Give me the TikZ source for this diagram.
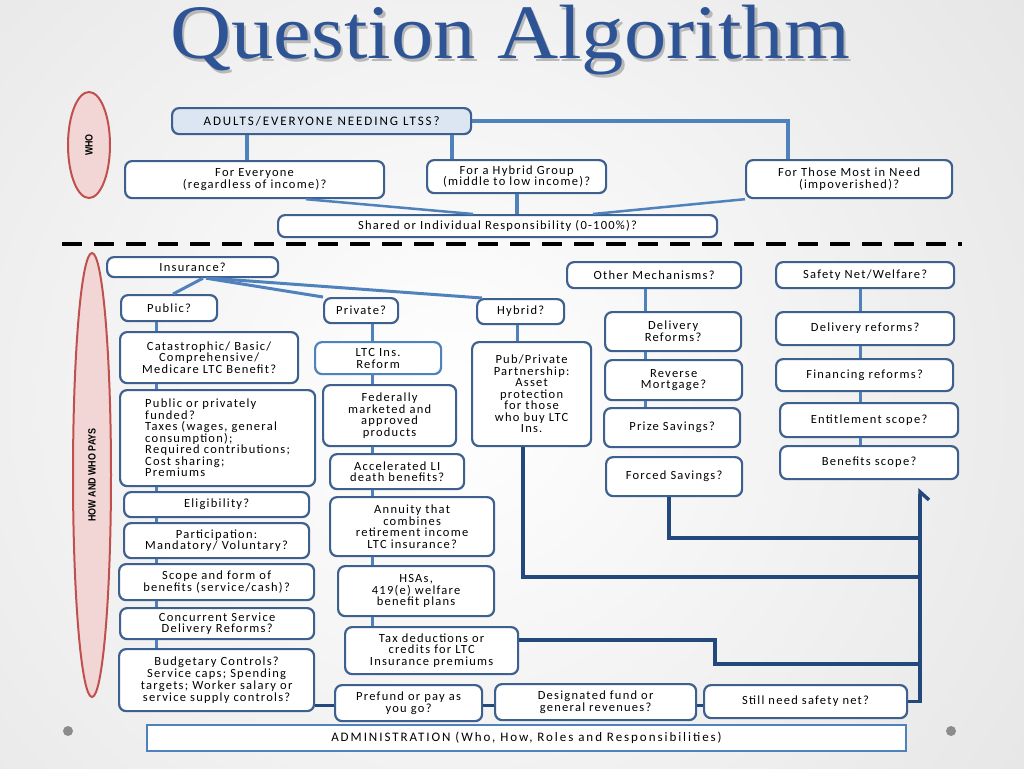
\documentclass[tikz,border=0pt]{standalone}
\usepackage{fontspec}
\usepackage{graphicx}
\setmainfont{Carlito}[LetterSpace=10]
\newfontfamily\widefont{Carlito}[LetterSpace=15]
\newfontfamily\titlefont{Liberation Serif}
\newfontfamily\labfont{Liberation Sans}
\usetikzlibrary{arrows.meta,shapes.geometric}
\definecolor{bord}{RGB}{61,96,142}
\definecolor{lite}{RGB}{79,129,189}
\definecolor{navy}{RGB}{34,72,124}
\definecolor{tblue}{RGB}{46,84,150}
\definecolor{ered}{RGB}{192,80,77}
\definecolor{epink}{RGB}{242,214,213}
\definecolor{afill}{RGB}{220,230,242}
\definecolor{dotgray}{RGB}{140,140,140}
\newcommand{\qatitle}{\scalebox{1.1}[1]{Question Algorithm}}
\tikzset{
  box/.style={draw=bord, line width=2.2pt, rounded corners=7pt, fill=white,
    align=center, inner sep=1pt, anchor=north west, text=black,
    font=\fontsize{12.5}{11.8}\selectfont},
  adminbox/.style={draw=lite, line width=2pt, fill=white, inner sep=1pt,
    anchor=north west, text=black, font=\widefont\fontsize{13}{12}\selectfont},
  oval/.style={ellipse, draw=ered, line width=2pt, fill=epink, inner sep=0pt,
    font=\labfont\bfseries\fontsize{10.5}{11}\selectfont},
  topv/.style={draw=lite, line width=4pt},
  topd/.style={draw=lite, line width=2.5pt},
  coll/.style={draw=lite, line width=3pt},
  navyl/.style={draw=navy, line width=3.5pt},
}
\begin{document}
\begin{tikzpicture}[x=1pt,y=-1pt]
\useasboundingbox (0,0) rectangle (1024,768);
\begin{scope}
\clip (0,0) rectangle (1024,768);
\shade[inner color=white, outer color=black!20] (-1000,-1000) rectangle (1900,1800);
\end{scope}

% title (with its soft shadow)
\node[font=\titlefont\fontsize{77}{80}\selectfont, text=tblue, anchor=base, inner sep=0pt] (title) at (510,59)
  {\makebox[0pt][l]{\hspace{2.5pt}\raisebox{-2.5pt}{\color{black!28}\qatitle}}\qatitle};

% side labels
\node[oval, minimum width=42pt, minimum height=106pt] (who) at (89,145) {\rotatebox{90}{\scalebox{0.85}[1]{WHO}}};
\node[oval, minimum width=38pt, minimum height=444pt] (howpays) at (92,475) {\rotatebox{90}{\scalebox{0.85}[1]{HOW AND WHO PAYS}}};

% dashed separator
\coordinate (dl) at (62,244);
\coordinate (dr) at (962,244);
\draw[black, line width=3.5pt, dash pattern=on 20pt off 12pt] (dl) -- (dr);

% WHO section
\node[box, fill=afill, font=\widefont\fontsize{13}{12}\selectfont, minimum width=299pt, minimum height=26pt] (adults) at (171,107) {ADULTS/EVERYONE NEEDING LTSS?};
\node[box, minimum width=259pt, minimum height=37pt] (everyone) at (124,160) {For Everyone\\(regardless of income)?};
\node[box, minimum width=179pt, minimum height=33pt] (hybridg) at (426,159) {For a Hybrid Group\\(middle to low income)?};
\node[box, minimum width=206pt, minimum height=38pt] (needy) at (745,159) {For Those Most in Need\\(impoverished)?};
\node[box, minimum width=439pt, minimum height=22pt] (shared) at (277,214) {Shared or Individual Responsibility (0-100\%)?};

\coordinate (xa) at (247,0);
\coordinate (xb) at (452,0);
\coordinate (xc) at (788,0);
\coordinate (xd) at (306,0);
\coordinate (xe) at (473,0);
\coordinate (xf) at (517,0);
\coordinate (xg) at (593,0);
\draw[topv] (adults.south -| xa) -- (everyone.north -| xa);
\draw[topv] (adults.south -| xb) -- (hybridg.north -| xb);
\draw[topv] (adults.east) -| (needy.north -| xc);
\draw[topd] (everyone.south -| xd) -- (shared.north -| xe);
\draw[topv] (hybridg.south -| xf) -- (shared.north -| xf);
\draw[topd] (needy.south west) -- (shared.north -| xg);

% HOW AND WHO PAYS section
\node[box, minimum width=171pt, minimum height=20pt] (insurance) at (106,256) {Insurance?};
\node[box, minimum width=96pt, minimum height=26pt] (public) at (120,294) {Public?};
\node[box, minimum width=74pt, minimum height=25pt] (private) at (323,297) {Private?};
\node[box, minimum width=87pt, minimum height=25pt] (hybrid) at (476,298) {Hybrid?};

\coordinate (i1) at (203,0);
\coordinate (i2) at (173,0);
\coordinate (i3) at (206,0);
\coordinate (i4) at (211,0);
\coordinate (i5) at (482,0);
\draw[coll] (insurance.south -| i1) -- (public.north -| i2);
\draw[coll] (insurance.south -| i3) -- (private.north west);
\draw[coll] (insurance.south -| i4) -- (hybrid.north -| i5);

% public column
\node[box, minimum width=178pt, minimum height=51pt] (cat) at (119,331) {Catastrophic/ Basic/\\Comprehensive/\\Medicare LTC Benefit?};
\node[box, align=left, minimum width=195pt, minimum height=96pt, font=\fontsize{12.5}{11.5}\selectfont] (pof) at (119,389) {Public or privately\\funded?\\Taxes (wages, general\\consumption);\\Required contributions;\\Cost sharing;\\Premiums};
\node[box, minimum width=185pt, minimum height=25pt] (elig) at (123,491) {Eligibility?};
\node[box, minimum width=185pt, minimum height=35pt] (part) at (123,522) {Participation:\\Mandatory/ Voluntary?};
\node[box, minimum width=195pt, minimum height=36pt] (scope) at (118,563) {Scope and form of\\benefits (service/cash)?};
\node[box, minimum width=194pt, minimum height=31pt] (conc) at (119,607) {Concurrent Service\\Delivery Reforms?};
\node[box, minimum width=195pt, minimum height=62pt] (budg) at (118,648) {Budgetary Controls?\\Service caps; Spending\\targets; Worker salary or\\service supply controls?};

\coordinate (cp) at (156,0);
\foreach \a/\b in {public/cat, cat/pof, pof/elig, elig/part, part/scope, scope/conc, conc/budg}
  \draw[coll] (\a.south -| cp) -- (\b.north -| cp);

% private column
\node[box, draw=lite, minimum width=126pt, minimum height=32pt] (ltc) at (314,341) {LTC Ins.\\Reform};
\node[box, minimum width=133pt, minimum height=61pt] (fed) at (322,384) {Federally\\marketed and\\approved\\products};
\node[box, minimum width=134pt, minimum height=35pt] (acc) at (329,453) {Accelerated LI\\death benefits?};
\node[box, minimum width=164pt, minimum height=59pt] (ann) at (329,496) {Annuity that\\combines\\retirement income\\LTC insurance?};
\node[box, minimum width=156pt, minimum height=50pt] (hsa) at (337,565) {HSAs,\\419(e) welfare\\benefit plans};
\node[box, minimum width=173pt, minimum height=47pt] (tax) at (344,626) {Tax deductions or\\credits for LTC\\Insurance premiums};

\coordinate (cq) at (372,0);
\foreach \a/\b in {private/ltc, ltc/fed, fed/acc, acc/ann, ann/hsa, hsa/tax}
  \draw[coll] (\a.south -| cq) -- (\b.north -| cq);

% hybrid column
\node[box, minimum width=119pt, minimum height=104pt, font=\fontsize{12.5}{11.5}\selectfont] (pp) at (471,341) {Pub/Private\\Partnership:\\Asset\\protection\\for those\\who buy LTC\\Ins.};
\coordinate (ch) at (517,0);
\draw[coll] (hybrid.south -| ch) -- (pp.north -| ch);

% other mechanisms column
\node[box, minimum width=174pt, minimum height=26pt] (other) at (566,261) {Other Mechanisms?};
\node[box, minimum width=136pt, minimum height=39pt] (dref) at (604,311) {Delivery\\Reforms?};
\node[box, minimum width=137pt, minimum height=40pt] (rev) at (604,359) {Reverse\\Mortgage?};
\node[box, minimum width=136pt, minimum height=39pt] (prize) at (603,407) {Prize Savings?};
\node[box, minimum width=136pt, minimum height=39pt] (forced) at (605,456) {Forced Savings?};
\coordinate (co) at (645,0);
\foreach \a/\b in {other/dref, dref/rev, rev/prize}
  \draw[coll] (\a.south -| co) -- (\b.north -| co);

% safety net column
\node[box, minimum width=178pt, minimum height=26pt] (safety) at (775,261) {Safety Net/Welfare?};
\node[box, minimum width=178pt, minimum height=33pt] (dref2) at (775,311) {Delivery reforms?};
\node[box, minimum width=177pt, minimum height=32pt] (fin) at (775,358) {Financing reforms?};
\node[box, minimum width=178pt, minimum height=34pt] (ent) at (779,402) {Entitlement scope?};
\node[box, minimum width=178pt, minimum height=33pt] (ben) at (779,445) {Benefits scope?};
\coordinate (cs) at (860,0);
\foreach \a/\b in {safety/dref2, dref2/fin, fin/ent, ent/ben}
  \draw[coll] (\a.south -| cs) -- (\b.north -| cs);

% bottom row
\node[box, minimum width=147pt, minimum height=36pt] (prefund) at (334,684) {Prefund or pay as\\you go?};
\node[box, minimum width=201pt, minimum height=36pt] (desig) at (494,683) {Designated fund or\\general revenues?};
\node[box, minimum width=203pt, minimum height=33pt] (still) at (703,684) {Still need safety net?};
\node[adminbox, minimum width=759pt, minimum height=26pt] (admin) at (146,724) {ADMINISTRATION (Who, How, Roles and Responsibilities)};

\coordinate (yb) at (0,705);
\draw[navyl, line width=3pt] (budg.east |- yb) -- (prefund.west |- yb);
\draw[navyl, line width=3pt] (prefund.east |- yb) -- (desig.west |- yb);
\draw[navyl, line width=3pt] (desig.east |- yb) -- (still.west |- yb);

% navy feedback lines
\coordinate (n1) at (918,577);
\coordinate (n2) at (918,538);
\coordinate (n3) at (918,664);
\coordinate (t1) at (715,640);
\coordinate (x523) at (523,0);
\coordinate (x669) at (669,0);
\coordinate (atop) at (920,488);
\draw[navyl] (pp.south -| x523) |- (n1);
\draw[navyl] (forced.south -| x669) |- (n2);
\draw[navyl] (tax.east |- t1) -- (t1) |- (n3);
\draw[navyl, -{Straight Barb[right, length=8pt, width=18pt]}] (still.east) -| (atop);

% decorative dots
\fill[dotgray] (68,731) circle (5);
\fill[dotgray] (951,731) circle (5);
\end{tikzpicture}
\end{document}
